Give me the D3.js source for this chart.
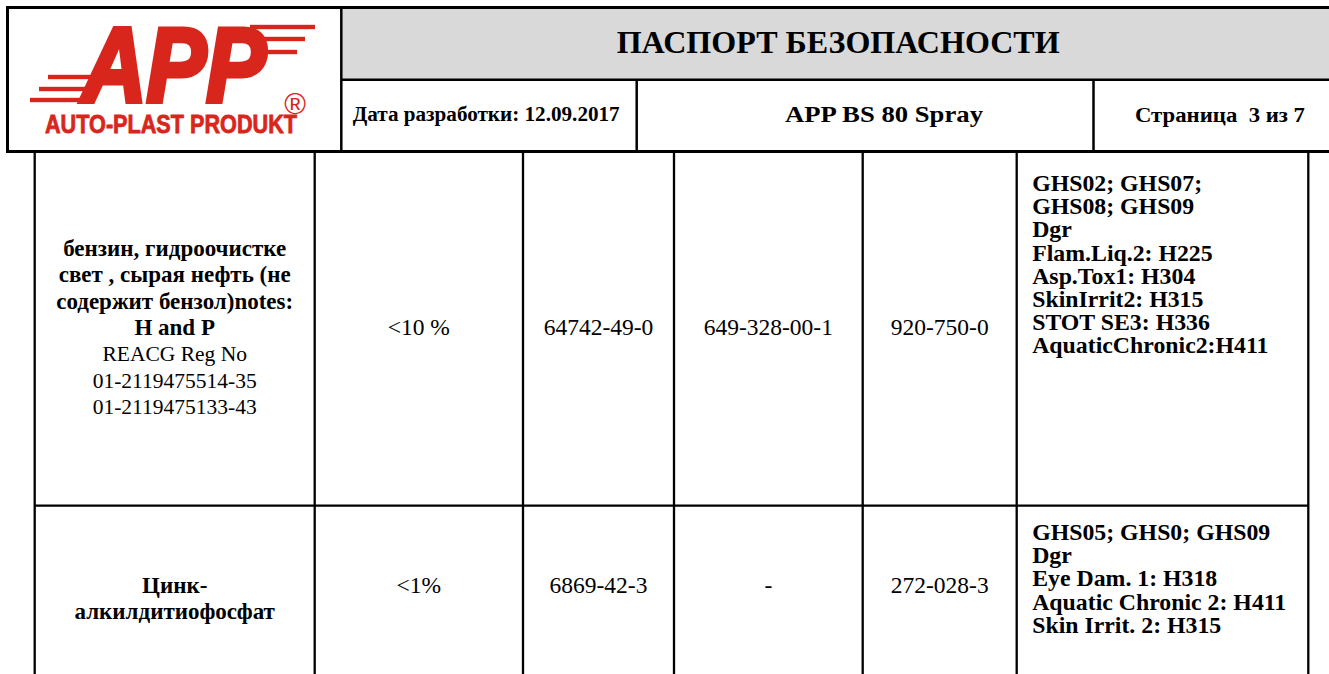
<!DOCTYPE html>
<html><head><meta charset="utf-8">
<script src="https://cdn.jsdelivr.net/npm/d3@7"></script>
<style>
html,body{margin:0;padding:0;background:#fff;}
svg{display:block;}
</style></head>
<body>
<svg id="chart" width="1329" height="674"></svg>
<script>
// ---------- data ----------
const title = "ПАСПОРТ БЕЗОПАСНОСТИ";
const headerCells = ["Дата разработки: 12.09.2017", "APP BS 80 Spray", "Страница  3 из 7"];
const logoWord = "APP";
const logoSubtitle = "AUTO-PLAST PRODUKT";
const substanceNames = [
  ["бензин, гидроочистке", "свет , сырая нефть (не", "содержит бензол)notes:", "H and P"],
  ["Цинк-", "алкилдитиофосфат"]
];
const regNumbers = [
  ["REACG Reg No", "01-2119475514-35", "01-2119475133-43"],
  []
];
const concentrations = ["<10 %", "<1%"];
const casNumbers = ["64742-49-0", "6869-42-3"];
const indexNumbers = ["649-328-00-1", "-"];
const ecNumbers = ["920-750-0", "272-028-3"];
const classifications = [
  ["GHS02; GHS07;", "GHS08; GHS09", "Dgr", "Flam.Liq.2: H225", "Asp.Tox1: H304", "SkinIrrit2: H315", "STOT SE3: H336", "AquaticChronic2:H411"],
  ["GHS05; GHS0; GHS09", "Dgr", "Eye Dam. 1: H318", "Aquatic Chronic 2: H411", "Skin Irrit. 2: H315"]
];

// ---------- layout ----------
const W = 1329, H = 674;
const svg = d3.select("#chart");
const RED = "#d9261c";
const SERIF = "'Liberation Serif','Times New Roman',serif";
const SANS = "'Liberation Sans',Arial,sans-serif";

// column boundaries of the table
const colKeys = ["name", "conc", "cas", "index", "ec", "class"];
const colEdges = [34.7, 314.7, 523, 674, 862.7, 1016.7, 1308.3];
const colLeft = d3.scaleOrdinal().domain(colKeys).range(colEdges.slice(0, 6));
const colRight = d3.scaleOrdinal().domain(colKeys).range(colEdges.slice(1));
const colCenter = k => (colLeft(k) + colRight(k)) / 2;

const rowTop = d3.scaleOrdinal().domain([0, 1]).range([153, 505.7]);
// baseline anchors inside each row
const nameFirst = d3.scaleOrdinal().domain([0, 1]).range([256, 593]);
const valueBase = d3.scaleOrdinal().domain([0, 1]).range([335, 593]);
const classFirst = d3.scaleOrdinal().domain([0, 1]).range([191, 540]);
const nameStep = d3.scaleLinear().domain([0, 1]).range([0, 26.3]);
const classStep = d3.scaleLinear().domain([0, 1]).range([0, 23.2]);

// ---------- header ----------
const hdr = svg.append("g");
hdr.append("rect").attr("x", 342).attr("y", 8).attr("width", W - 342).attr("height", 71).attr("fill", "#d9d9d9");
const thick = (x1, y1, x2, y2, w) => hdr.append("line").attr("x1", x1).attr("y1", y1).attr("x2", x2).attr("y2", y2)
  .attr("stroke", "#000").attr("stroke-width", w);
thick(6, 7.5, W, 7.5, 3);
thick(7.5, 6, 7.5, 153, 3);
thick(6, 151.5, W, 151.5, 3);
thick(341.3, 7, 341.3, 151, 2.5);
thick(341, 79.8, W, 79.8, 2.5);
thick(636.7, 79, 636.7, 151, 2.5);
thick(1093.5, 79, 1093.5, 151, 2.5);

hdr.append("text").text(title)
  .attr("x", 616.7).attr("y", 53.3)
  .attr("textLength", 443).attr("lengthAdjust", "spacingAndGlyphs")
  .attr("font-family", SERIF).attr("font-weight", "bold").attr("font-size", 32.5).attr("fill", "#000");

const headerPos = [
  {x: 352.7, y: 121, len: 267, fs: 20},
  {x: 785, y: 121.7, len: 198, fs: 23},
  {x: 1135, y: 121.7, len: 170, fs: 20}
];
hdr.selectAll("text.hc").data(headerCells).join("text").attr("class", "hc")
  .attr("x", (d, i) => headerPos[i].x).attr("y", (d, i) => headerPos[i].y)
  .attr("textLength", (d, i) => headerPos[i].len).attr("lengthAdjust", "spacingAndGlyphs")
  .attr("font-family", SERIF).attr("font-weight", "bold")
  .attr("font-size", (d, i) => headerPos[i].fs).attr("fill", "#000")
  .style("white-space", "pre")
  .text(d => d);

// ---------- logo ----------
const logo = svg.append("g");
const speedLines = [
  {x1: 48, x2: 94, y: 77}, {x1: 39, x2: 90, y: 89}, {x1: 30, x2: 86, y: 100},
  {x1: 250, x2: 315, y: 27}, {x1: 256, x2: 305, y: 39}, {x1: 258, x2: 297, y: 52}
];
logo.selectAll("rect.sl").data(speedLines).join("rect").attr("class", "sl")
  .attr("x", d => d.x1).attr("y", d => d.y - 2.2).attr("width", d => d.x2 - d.x1).attr("height", 4.4)
  .attr("fill", RED);
logo.append("text").text(logoWord)
  .attr("x", 82).attr("y", 102)
  .attr("textLength", 184).attr("lengthAdjust", "spacingAndGlyphs")
  .attr("font-family", SANS).attr("font-weight", "bold").attr("font-style", "italic")
  .attr("font-size", 106).attr("fill", RED).attr("stroke", RED).attr("stroke-width", 5)
  .attr("stroke-linejoin", "miter");
logo.append("text").text(logoSubtitle)
  .attr("x", 45).attr("y", 133)
  .attr("textLength", 252).attr("lengthAdjust", "spacingAndGlyphs")
  .attr("font-family", SANS).attr("font-weight", "bold")
  .attr("font-size", 25.5).attr("fill", RED).attr("stroke", RED).attr("stroke-width", 0.8);
logo.append("text").text("®").attr("x", 295).attr("y", 113.5).attr("text-anchor", "middle")
  .attr("font-family", SANS).attr("font-size", 29.5).attr("fill", RED);

// ---------- table grid ----------
const grid = svg.append("g").attr("stroke", "#000").attr("stroke-width", 2.3);
grid.selectAll("line.v").data(colEdges).join("line").attr("class", "v")
  .attr("x1", d => d).attr("x2", d => d).attr("y1", 153).attr("y2", H);
grid.append("line").attr("x1", colEdges[0]).attr("x2", colEdges[6])
  .attr("y1", rowTop(1)).attr("y2", rowTop(1));

// ---------- table text ----------
const body = svg.append("g").attr("font-family", SERIF).attr("fill", "#000");
[0, 1].forEach(r => {
  const lines = substanceNames[r].map(t => ({t, bold: true}))
    .concat(regNumbers[r].map(t => ({t, bold: false})));
  body.append("g").selectAll("text").data(lines).join("text")
    .attr("x", colCenter("name")).attr("y", (d, i) => nameFirst(r) + nameStep(i))
    .attr("text-anchor", "middle")
    .attr("font-size", d => d.bold ? 23 : 21.5)
    .attr("font-weight", d => d.bold ? "bold" : "normal")
    .text(d => d.t);

  const vals = [["conc", concentrations[r]], ["cas", casNumbers[r]], ["index", indexNumbers[r]], ["ec", ecNumbers[r]]];
  body.append("g").selectAll("text").data(vals).join("text")
    .attr("x", d => colCenter(d[0])).attr("y", valueBase(r))
    .attr("text-anchor", "middle").attr("font-size", 23.5)
    .text(d => d[1]);

  body.append("g").selectAll("text").data(classifications[r]).join("text")
    .attr("x", colLeft("class") + 15.5).attr("y", (d, i) => classFirst(r) + classStep(i))
    .attr("font-size", 23.8).attr("font-weight", "bold")
    .text(d => d);
});
</script>
</body></html>
